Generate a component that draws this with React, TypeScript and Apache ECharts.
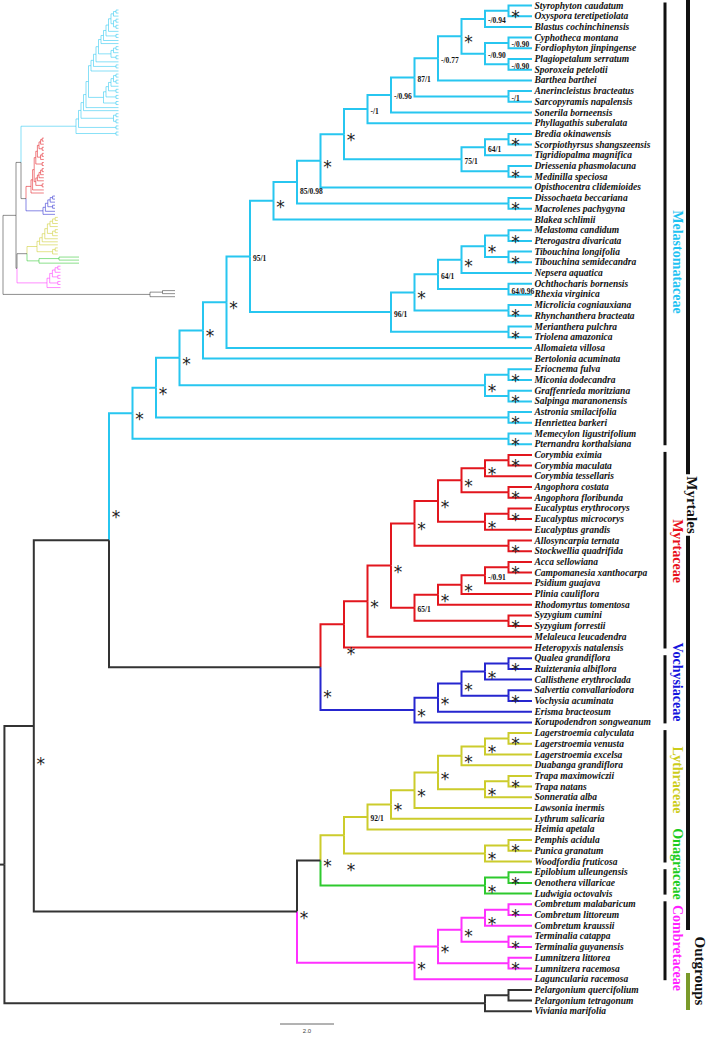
import { useEffect, useRef } from "react";
import * as echarts from "echarts";

// ---------------- data ----------------
const familyNames = ["Melastomataceae", "Myrtaceae", "Vochysiaceae", "Lythraceae", "Onagraceae", "Combretaceae", "Outgroups"];

const ladder = (base: string, steps: [string, string][]) =>
  steps.reduce((acc, [sib, sup]) => `(${acc},${sib})${sup}`, base);

const melastomataceaeCore =
  "(((Styrophyton caudatum,Oxyspora teretipetiolata)*,Blastus cochinchinensis)-/0.94,((Cyphotheca montana,Fordiophyton jinpingense)-/0.90,(Plagiopetalum serratum,Sporoxeia petelotii)-/0.90)-/0.90)*";
const brediaClade =
  "(((Bredia okinawensis,Scorpiothyrsus shangszeensis)*,Tigridiopalma magnifica)64/1,(Driessenia phasmolacuna,Medinilla speciosa)*)75/1";
const melastomaClade =
  "((((((Melastoma candidum,Pterogastra divaricata)*,(Tibouchina longifolia,Tibouchina semidecandra)*)*,Nepsera aquatica)*,(Ochthocharis bornensis,Rhexia virginica)64/0.96)64/1,(Microlicia cogniauxiana,Rhynchanthera bracteata)*)*,(Merianthera pulchra,Triolena amazonica)*)96/1";
const melastomataceaeLadder: [string, string][] = [
  ["Barthea barthei", "-/0.77"],
  ["(Anerincleistus bracteatus,Sarcopyramis napalensis)-/1", "87/1"],
  ["Sonerila borneensis", "-/0.96"],
  ["Phyllagathis suberalata", "-/1"],
  [brediaClade, "*"],
  ["Opisthocentra clidemioides", "*"],
  ["(Dissochaeta beccariana,Macrolenes pachygyna)*", "85/0.98"],
  ["Blakea schlimii", "*"],
  [melastomaClade, "95/1"],
  ["Allomaieta villosa", "*"],
  ["Bertolonia acuminata", "*"],
  ["((Eriocnema fulva,Miconia dodecandra)*,(Graffenrieda moritziana,Salpinga maranonensis)*)*", "*"],
  ["(Astronia smilacifolia,Henriettea barkeri)*", "*"],
  ["(Memecylon ligustrifolium,Pternandra korthalsiana)*", "*"],
];

const myrtaceaeCore =
  "((((Corymbia eximia,Corymbia maculata)*,Corymbia tessellaris)*,(Angophora costata,Angophora floribunda)*)*,((Eucalyptus erythrocorys,Eucalyptus microcorys)*,Eucalyptus grandis)*)*";
const myrteaeClade =
  "(((((Acca sellowiana,Campomanesia xanthocarpa)*,Psidium guajava)-/0.91,Plinia cauliflora)*,Rhodomyrtus tomentosa)*,(Syzygium cumini,Syzygium forrestii)*)65/1";
const myrtaceaeLadder: [string, string][] = [
  ["(Allosyncarpia ternata,Stockwellia quadrifida)*", "*"],
  [myrteaeClade, "*"],
  ["Melaleuca leucadendra", "*"],
  ["Heteropyxis natalensis", "*"],
];

const vochysiaceaeCore =
  "(((Qualea grandiflora,Ruizterania albiflora)*,Callisthene erythroclada)*,(Salvertia convallariodora,Vochysia acuminata)*)*";
const vochysiaceaeLadder: [string, string][] = [
  ["Erisma bracteosum", "*"],
  ["Korupodendron songweanum", "*"],
];

const lythraceaeCore =
  "((((Lagerstroemia calyculata,Lagerstroemia venusta)*,Lagerstroemia excelsa)*,Duabanga grandiflora)*,((Trapa maximowiczii,Trapa natans)*,Sonneratia alba)*)*";
const lythraceaeLadder: [string, string][] = [
  ["Lawsonia inermis", "*"],
  ["Lythrum salicaria", "*"],
  ["Heimia apetala", "92/1"],
  ["((Pemphis acidula,Punica granatum)*,Woodfordia fruticosa)*", "*"],
];

const onagraceaeClade = "((Epilobium ulleungensis,Oenothera villaricae)*,Ludwigia octovalvis)*";

const combretaceaeCore =
  "(((Combretum malabaricum,Combretum littoreum)*,Combretum kraussii)*,(Terminalia catappa,Terminalia guyanensis)*)*";
const combretaceaeLadder: [string, string][] = [
  ["(Lumnitzera littorea,Lumnitzera racemosa)*", "*"],
  ["Laguncularia racemosa", "*"],
];

const outgroupClade = "((Pelargonium quercifolium,Pelargonium tetragonum),Viviania marifolia)";

const familyNewick = [
  ladder(melastomataceaeCore, melastomataceaeLadder),
  ladder(myrtaceaeCore, myrtaceaeLadder),
  ladder(vochysiaceaeCore, vochysiaceaeLadder),
  ladder(lythraceaeCore, lythraceaeLadder),
  onagraceaeClade,
  ladder(combretaceaeCore, combretaceaeLadder),
  outgroupClade,
];

// backbone supports: [Myrt+Voch, Melast+(Myrt+Voch), Lyth+Onag, (Lyth+Onag)+Comb, ingroup]
const backboneSupport = ["*", "*", "*", "*", "*"];
const [F0, F1, F2, F3, F4, F5, F6] = familyNewick;
const ingroupNewick = `((${F0},(${F1},${F2})${backboneSupport[0]})${backboneSupport[1]},((${F3},${F4})${backboneSupport[2]},${F5})${backboneSupport[3]})${backboneSupport[4]}`;
const treeNewick = `(${ingroupNewick},${F6});`;

// deep node depth (in cladogram levels) for root and ingroup
const rootLevel = 22.45;
const ingroupLevel = 21.2;
const rootStubLevel = 22.64;

// ---------------- layout / styles ----------------
const W = 709;
const H = 1037;
const TIP_X = 532;
const LEVEL_W = 23.5;
const ROW0 = 5.5;
const ROW_H = 10.7;

const I_H = 320;
const I_ROW0 = 10;
const I_ROW_H = 3.05;
// inset phylogram: per family [crown x, px per level]
const insetFamily: [number, number][] = [
  [76, 2.5],
  [31, 1.6],
  [43, 2.4],
  [37, 2.6],
  [39, 20],
  [47, 2.7],
  [150, 12.5],
];
const insetBackbone: Record<string, number> = {
  "1,2": 26,
  "0,1,2": 21,
  "3,4": 27,
  "3,4,5": 17,
  "0,1,2,3,4,5": 16,
  "0,1,2,3,4,5,6": 3,
};

const lineColors = ["#27c6f0", "#e2161e", "#2626cf", "#cccc2c", "#2ec92e", "#ff30ff", "#333333"];
const textColors = ["#1ec2f2", "#e8101a", "#1515dd", "#cccc1a", "#1ecc1e", "#ff1eff"];
const familyLabelY = [262, 551, 682, 780, 864, 948];

const LEAF_FONT = 'italic bold 9.5px "Liberation Serif"';
const SUP_FONT = 'bold 7.5px "Liberation Serif"';
const STAR_FONT = '17px "DejaVu Sans"';
const FAM_FONT = 'bold 14px "Liberation Serif"';
const supportDy: Record<string, number> = { "85/0.98": 9 };
// star placement tweaks for backbone / crown nodes (keyed by family set)
const starDy: Record<string, number> = {
  "crown:1": 24,
  "crown:3": 29,
  "1,2": 24,
  "0,1,2": -29,
  "0,1,2,3,4,5": 32,
};

type TNode = {
  name: string;
  label: string;
  children: TNode[];
  h: number;
  y: number;
  fams: number[];
  fam: number;
  level: number;
};

function parseNewick(src: string): TNode {
  let i = 0;
  const stop = ",();";
  const read = () => {
    let s = "";
    while (i < src.length && !stop.includes(src[i])) s += src[i++];
    return s.trim();
  };
  const node = (): TNode => {
    const n: TNode = { name: "", label: "", children: [], h: 0, y: 0, fams: [], fam: -1, level: 0 };
    if (src[i] === "(") {
      i++;
      n.children.push(node());
      while (src[i] === ",") {
        i++;
        n.children.push(node());
      }
      i++;
      n.label = read();
    } else n.name = read();
    return n;
  };
  return node();
}

function leafNamesOf(n: TNode): string[] {
  return n.children.length ? n.children.flatMap(leafNamesOf) : [n.name];
}

function buildTree() {
  const famOf = new Map<string, number>();
  familyNewick.forEach((nw, f) => leafNamesOf(parseNewick(nw)).forEach((nm) => famOf.set(nm, f)));
  const root = parseNewick(treeNewick);
  const leaves: TNode[] = [];
  const internals: TNode[] = [];
  const walk = (n: TNode) => {
    if (!n.children.length) {
      n.y = leaves.length;
      n.fam = famOf.get(n.name) ?? 6;
      n.fams = [n.fam];
      n.h = 0;
      n.level = 0;
      leaves.push(n);
      return;
    }
    n.children.forEach(walk);
    n.h = Math.max(...n.children.map((c) => c.h)) + 1;
    n.level = n.h;
    n.y = (n.children[0].y + n.children[n.children.length - 1].y) / 2;
    n.fams = Array.from(new Set(n.children.flatMap((c) => c.fams))).sort((a, b) => a - b);
    n.fam = n.fams.length === 1 ? n.fams[0] : -1;
    internals.push(n);
  };
  walk(root);
  root.level = rootLevel;
  root.children[0].level = ingroupLevel;
  return { root, leaves, internals };
}

const { root, leaves, internals } = buildTree();

const crownH: number[] = familyNames.map(() => 0);
internals.forEach((n) => {
  if (n.fam >= 0) crownH[n.fam] = Math.max(crownH[n.fam], n.h);
});
const nodeKey = (n: TNode) => (n.fam >= 0 ? (n.h === crownH[n.fam] ? `crown:${n.fam}` : "") : n.fams.join(","));
const insetX = (n: TNode) => {
  if (n.fam >= 0) {
    const [cx, u] = insetFamily[n.fam];
    return cx + (crownH[n.fam] - n.h) * u;
  }
  return insetBackbone[n.fams.join(",")] ?? 3;
};
const colorIdx = (n: TNode) => (n.fam >= 0 ? n.fam : 6);

const mainEdges: number[][] = [];
const insetEdges: number[][] = [];
internals.forEach((n) => {
  n.children.forEach((c) => {
    mainEdges.push([n.level, n.y, c.y, c.level, colorIdx(c)]);
    insetEdges.push([insetX(n), n.y, c.y, insetX(c), colorIdx(c)]);
  });
});
mainEdges.push([rootStubLevel, root.y, root.y, root.level, 6]);

const supportNodes = internals.filter((n) => n.label);
const familyRanges = familyNames.slice(0, 6).map((_, f) => {
  const idx = leaves.filter((l) => l.fam === f).map((l) => l.y);
  return [Math.min(...idx), Math.max(...idx), f];
});

export default function App() {
  const ref = useRef<HTMLDivElement>(null);
  useEffect(() => {
    if (!ref.current) return;
    const chart = echarts.init(ref.current, undefined, { renderer: "svg" });
    const elbow = (api: any) => {
      const p0 = api.coord([api.value(0), api.value(1)]);
      const p1 = api.coord([api.value(0), api.value(2)]);
      const p2 = api.coord([api.value(3), api.value(2)]);
      return [p0, p1, p2];
    };
    const option: any = {
      animation: false,
      backgroundColor: "#ffffff",
      grid: [
        { left: 0, top: 0, width: W, height: H },
        { left: 0, top: 0, width: 200, height: I_H },
      ],
      xAxis: [
        { type: "value", gridIndex: 0, min: (TIP_X - W) / LEVEL_W, max: TIP_X / LEVEL_W, inverse: true, show: false },
        { type: "value", gridIndex: 1, min: 0, max: 200, show: false },
      ],
      yAxis: [
        { type: "value", gridIndex: 0, min: -ROW0 / ROW_H, max: (H - ROW0) / ROW_H, inverse: true, show: false },
        { type: "value", gridIndex: 1, min: -I_ROW0 / I_ROW_H, max: (I_H - I_ROW0) / I_ROW_H, inverse: true, show: false },
      ],
      series: [
        {
          type: "custom",
          name: "inset",
          xAxisIndex: 1,
          yAxisIndex: 1,
          silent: true,
          clip: false,
          data: insetEdges,
          encode: { x: [0, 3], y: [1, 2] },
          renderItem: (_p: any, api: any) => ({
            type: "polyline",
            shape: { points: elbow(api) },
            style: { stroke: lineColors[api.value(4)], lineWidth: 1, fill: null, opacity: 0.55 },
          }),
        },
        {
          type: "custom",
          name: "branches",
          silent: true,
          clip: false,
          data: mainEdges,
          encode: { x: [0, 3], y: [1, 2] },
          renderItem: (_p: any, api: any) => ({
            type: "polyline",
            shape: { points: elbow(api) },
            style: { stroke: lineColors[api.value(4)], lineWidth: 2, fill: null },
          }),
        },
        {
          type: "custom",
          name: "taxa",
          silent: true,
          clip: false,
          data: leaves.map((l) => [0, l.y]),
          encode: { x: 0, y: 1 },
          renderItem: (p: any, api: any) => {
            const pt = api.coord([api.value(0), api.value(1)]);
            return {
              type: "text",
              x: pt[0] + 2.5,
              y: pt[1],
              style: { text: leaves[p.dataIndex].name, fill: "#111", font: LEAF_FONT, align: "left", verticalAlign: "middle" },
            };
          },
        },
        {
          type: "custom",
          name: "support",
          silent: true,
          clip: false,
          data: supportNodes.map((n) => [n.level, n.y]),
          encode: { x: 0, y: 1 },
          renderItem: (p: any, api: any) => {
            const pt = api.coord([api.value(0), api.value(1)]);
            const node = supportNodes[p.dataIndex];
            const lab = node.label;
            if (lab === "*") {
              return {
                type: "text",
                x: pt[0] + 7,
                y: pt[1] + 6 + (starDy[nodeKey(node)] ?? 0),
                style: { text: "*", fill: "#222", font: STAR_FONT, align: "center", verticalAlign: "middle" },
              };
            }
            return {
              type: "text",
              x: pt[0] + 3,
              y: pt[1] + (supportDy[lab] ?? 2),
              style: { text: lab, fill: "#111", font: SUP_FONT, align: "left", verticalAlign: "middle" },
            };
          },
        },
        {
          type: "custom",
          name: "families",
          silent: true,
          clip: false,
          data: familyRanges,
          encode: { y: [0, 1] },
          renderItem: (_p: any, api: any) => {
            const f = api.value(2);
            const y0 = api.coord([0, api.value(0)])[1] - 3;
            const y1 = api.coord([0, api.value(1)])[1] + 1;
            return {
              type: "group",
              children: [
                { type: "line", shape: { x1: 665, y1: y0, x2: 665, y2: y1 }, style: { stroke: "#111", lineWidth: 3 } },
                {
                  type: "text",
                  x: 677,
                  y: familyLabelY[f],
                  rotation: -Math.PI / 2,
                  style: { text: familyNames[f], fill: textColors[f], font: FAM_FONT, align: "center", verticalAlign: "middle" },
                },
              ],
            };
          },
        },
      ],
      graphic: [
        { type: "line", shape: { x1: 688, y1: 0, x2: 688, y2: 930 }, style: { stroke: "#111", lineWidth: 4 } },
        {
          type: "text",
          x: 692,
          y: 505,
          rotation: -Math.PI / 2,
          style: { text: "Myrtales", fill: "#111", font: 'bold 15px "Liberation Serif"', align: "center", verticalAlign: "middle", backgroundColor: "#fff", padding: [3, 2] },
        },
        { type: "line", shape: { x1: 688, y1: 973, x2: 688, y2: 1010 }, style: { stroke: "#7a9a2a", lineWidth: 4 } },
        {
          type: "text",
          x: 700,
          y: 971,
          rotation: -Math.PI / 2,
          style: { text: "Outgroups", fill: "#111", font: 'bold 15px "Liberation Serif"', align: "center", verticalAlign: "middle" },
        },
        { type: "line", shape: { x1: 280, y1: 1024, x2: 334, y2: 1024 }, style: { stroke: "#666", lineWidth: 1 } },
        { type: "text", x: 307, y: 1031, style: { text: "2.0", fill: "#444", font: '6px "Liberation Sans"', align: "center", verticalAlign: "middle" } },
      ],
    };
    chart.setOption(option);
    return () => chart.dispose();
  }, []);
  return <div ref={ref} style={{ position: "fixed", left: 0, top: 0, width: W, height: H, background: "#fff" }} />;
}
